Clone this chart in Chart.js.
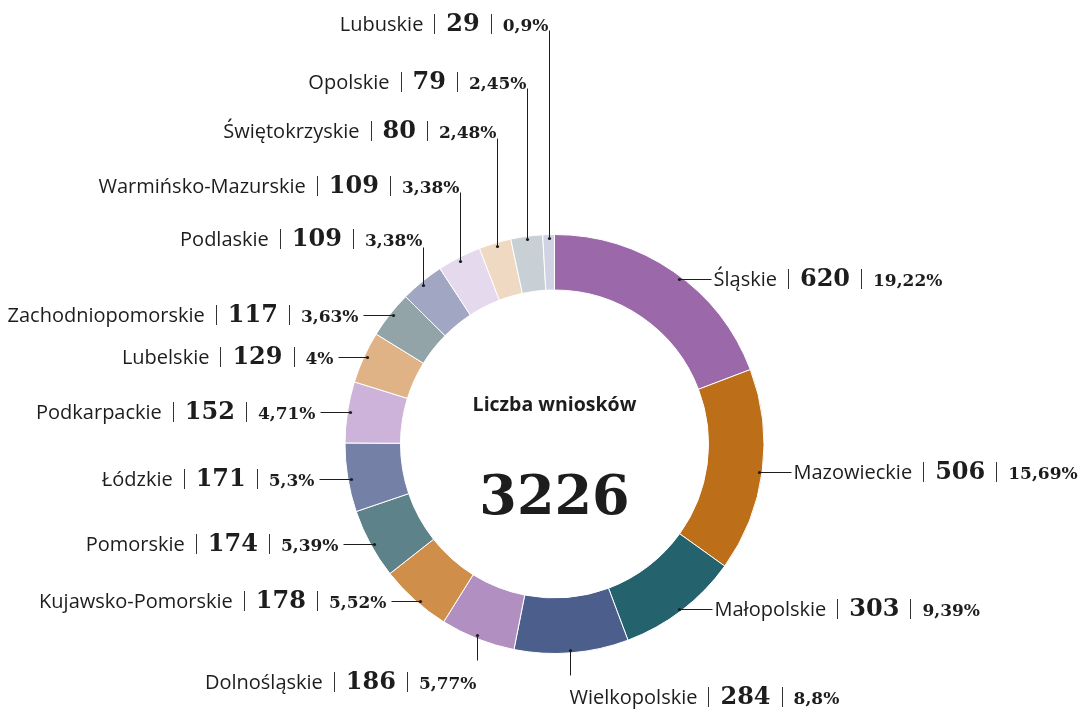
<!DOCTYPE html>
<html>
<head>
<meta charset="utf-8">
<script src="https://cdn.jsdelivr.net/npm/chart.js@4/dist/chart.umd.min.js"></script>
<style>
  html, body { margin: 0; padding: 0; background: #ffffff; }
  #wrap { width: 1085px; height: 709px; position: relative; }
</style>
</head>
<body>
<div id="wrap"><canvas id="c" width="1085" height="709"></canvas></div>
<script>
// ---- DATA ----
const regions = ["Śląskie", "Mazowieckie", "Małopolskie", "Wielkopolskie", "Dolnośląskie",
  "Kujawsko-Pomorskie", "Pomorskie", "Łódzkie", "Podkarpackie", "Lubelskie",
  "Zachodniopomorskie", "Podlaskie", "Warmińsko-Mazurskie", "Świętokrzyskie", "Opolskie", "Lubuskie"];
const applications = [620, 506, 303, 284, 186, 178, 174, 171, 152, 129, 117, 109, 109, 80, 79, 29];
const shareLabels = ["19,22%", "15,69%", "9,39%", "8,8%", "5,77%", "5,52%", "5,39%", "5,3%", "4,71%",
  "4%", "3,63%", "3,38%", "3,38%", "2,48%", "2,45%", "0,9%"];
const centerTitle = "Liczba wniosków";
const centerTotal = "3226";

// ---- STYLE ----
const colors = ["#9b69a9", "#bd6e19", "#24636e", "#4c5e8b", "#b28fc1", "#cf8f4b", "#5e828a", "#7580a7",
  "#cdb3d9", "#dfb385", "#93a4a9", "#a1a6c2", "#e5d9ee", "#efd9c3", "#c8d0d6", "#d0d3e3"];

// label layout: offsets from chart centre. mode 'h' = horizontal leader, 'v' = vertical leader
// side: 'L' text right-aligned at x, 'R' text left-aligned at x
const labelLayout = [
  { mode: 'h', side: 'R', x: 159, y: -165 },
  { mode: 'h', side: 'R', x: 239, y: 28 },
  { mode: 'h', side: 'R', x: 160, y: 165 },
  { mode: 'v', side: 'R', x: 15, y: 253, lineEnd: 231 },
  { mode: 'v', side: 'L', x: -78, y: 238, lineEnd: 216 },
  { mode: 'h', side: 'L', x: -168, y: 157 },
  { mode: 'h', side: 'L', x: -216, y: 100 },
  { mode: 'h', side: 'L', x: -240, y: 35 },
  { mode: 'h', side: 'L', x: -239, y: -32 },
  { mode: 'h', side: 'L', x: -221, y: -87 },
  { mode: 'h', side: 'L', x: -196, y: -129 },
  { mode: 'v', side: 'L', x: -132, y: -205, lineEnd: -197 },
  { mode: 'v', side: 'L', x: -95, y: -258, lineEnd: -252 },
  { mode: 'v', side: 'L', x: -58, y: -313, lineEnd: -306 },
  { mode: 'v', side: 'L', x: -28, y: -362, lineEnd: -356 },
  { mode: 'v', side: 'L', x: -6, y: -420, lineEnd: -414 }
];

const nameFont = '400 20px "Open Sans", Lato, sans-serif';
const numFont = 'bold 24px "DejaVu Serif", serif';
const pctFont = 'bold 17px "DejaVu Serif", serif';
const ink = '#1d1d1d';

const labelPlugin = {
  id: 'labels',
  afterDraw(chart) {
    const ctx = chart.ctx;
    const meta = chart.getDatasetMeta(0);
    const arc0 = meta.data[0];
    const cx = arc0.x, cy = arc0.y, R = arc0.outerRadius - 3;
    ctx.save();
    // centre text
    ctx.fillStyle = ink;
    ctx.textAlign = 'center';
    ctx.textBaseline = 'middle';
    ctx.font = 'bold 19.5px "Open Sans", Lato, sans-serif';
    ctx.fillText(centerTitle, cx, cy - 39);
    ctx.textBaseline = 'alphabetic';
    ctx.font = 'bold 54px "DejaVu Serif", serif';
    ctx.fillText(centerTotal, cx, cy + 70);

    labelLayout.forEach((L, i) => {
      const ax = cx + L.x, ay = cy + L.y;
      const parts = [
        { t: regions[i], f: nameFont },
        { sep: true },
        { t: String(applications[i]), f: numFont },
        { sep: true },
        { t: shareLabels[i], f: pctFont }
      ];
      const gap = 11;
      parts.forEach(p => {
        if (p.sep) { p.w = 1; } else { ctx.font = p.f; p.w = ctx.measureText(p.t).width; }
      });
      const total = parts.reduce((s, p) => s + p.w, 0) + gap * (parts.length - 1);
      let x = L.side === 'L' ? ax - total : ax;
      ctx.textAlign = 'left';
      ctx.textBaseline = 'alphabetic';
      const base = ay + 7;
      parts.forEach(p => {
        if (p.sep) {
          ctx.strokeStyle = '#333';
          ctx.lineWidth = 1;
          ctx.beginPath();
          ctx.moveTo(Math.round(x) + 0.5, ay - 10);
          ctx.lineTo(Math.round(x) + 0.5, ay + 10);
          ctx.stroke();
        } else {
          ctx.font = p.f;
          ctx.fillStyle = ink;
          ctx.fillText(p.t, x, base);
        }
        x += p.w + gap;
      });

      // leader line
      ctx.strokeStyle = '#1d1d1d';
      ctx.lineWidth = 1;
      let px, py, sx, sy;
      if (L.mode === 'h') {
        const dy = L.y;
        const dx = Math.sqrt(Math.max(R * R - dy * dy, 0));
        py = ay;
        if (L.side === 'R') { px = cx + dx; sx = ax - 3; } else { px = cx - dx; sx = ax + 4; }
        sy = ay;
      } else {
        const dx = L.x;
        const dyy = Math.sqrt(Math.max(R * R - dx * dx, 0));
        px = ax;
        sx = ax;
        if (L.y > 0) { py = cy + dyy; } else { py = cy - dyy; }
        sy = cy + L.lineEnd;
      }
      ctx.beginPath();
      ctx.moveTo(Math.round(sx) + 0.5, Math.round(sy) + 0.5);
      ctx.lineTo(Math.round(px) + 0.5, Math.round(py) + 0.5);
      ctx.stroke();
      ctx.fillStyle = '#1d1d1d';
      ctx.beginPath();
      ctx.arc(Math.round(px) + 0.5, Math.round(py) + 0.5, 1.6, 0, Math.PI * 2);
      ctx.fill();
    });
    ctx.restore();
  }
};

new Chart(document.getElementById('c'), {
  type: 'doughnut',
  data: {
    labels: regions,
    datasets: [{
      data: applications,
      backgroundColor: colors,
      borderColor: '#ffffff',
      borderWidth: 1
    }]
  },
  options: {
    responsive: false,
    animation: false,
    cutout: '73.5%',
    layout: { padding: { top: 234, bottom: 55, left: 24, right: 0 } },
    plugins: { legend: { display: false }, tooltip: { enabled: false } }
  },
  plugins: [labelPlugin]
});
</script>
</body>
</html>
